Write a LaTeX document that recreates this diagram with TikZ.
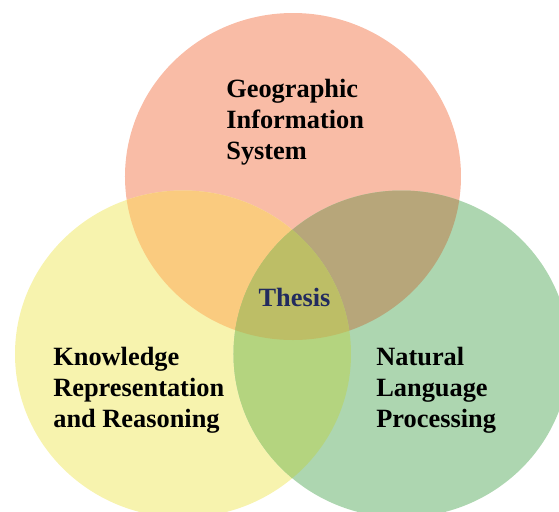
\documentclass[tikz,border=0pt]{standalone}
\usepackage{fontspec}
\setmainfont{Liberation Serif}
\usepackage{tikz}

\definecolor{gisred}{HTML}{F9BCA6}
\definecolor{krryellow}{HTML}{F7F3AE}
\definecolor{nlpgreen}{HTML}{ADD6B0}
\definecolor{giskrr}{HTML}{FACB7F}
\definecolor{gisnlp}{HTML}{B7A67A}
\definecolor{krrnlp}{HTML}{B4D47F}
\definecolor{allthree}{HTML}{BDBE66}
\definecolor{thesisblue}{HTML}{222B5E}

\begin{document}
\begin{tikzpicture}[scale=0.2]
    \tikzstyle{every node}+=[inner sep=0pt, font=\bfseries\fontsize{15}{17.6}\selectfont]
    \useasboundingbox (0,0) rectangle (55.9,-51.1);
    \clip (0,0) rectangle (55.9,-51.1);
    \coordinate (gis) at (29.3,-17.65);
    \coordinate (krr) at (18.3,-35.4);
    \coordinate (nlp) at (40.15,-35.4);
    % plain circles
    \fill [gisred] (gis) ellipse (16.8 and 16.35);
    \fill [krryellow] (krr) ellipse (16.8 and 16.35);
    \fill [nlpgreen] (nlp) ellipse (16.8 and 16.35);
    % overlaps of two
    \begin{scope}
      \clip (gis) ellipse (16.8 and 16.35);
      \fill [giskrr] (krr) ellipse (16.8 and 16.35);
      \fill [gisnlp] (nlp) ellipse (16.8 and 16.35);
    \end{scope}
    \begin{scope}
      \clip (krr) ellipse (16.8 and 16.35);
      \fill [krrnlp] (nlp) ellipse (16.8 and 16.35);
    \end{scope}
    % overlap of all three
    \begin{scope}
      \clip (gis) ellipse (16.8 and 16.35);
      \clip (krr) ellipse (16.8 and 16.35);
      \fill [allthree] (nlp) ellipse (16.8 and 16.35);
    \end{scope}
    % labels
    \node [anchor=north west, align=left] (gislabel) at (22.6,-7.9) {Geographic\\Information\\System};
    \node [anchor=north west, align=left] (krrlabel) at (5.3,-34.7) {Knowledge\\Representation\\and Reasoning};
    \node [anchor=north west, align=left] (nlplabel) at (37.6,-34.7) {Natural\\Language\\Processing};
    \node [anchor=base, text=thesisblue] (thesis) at (29.45,-30.6) {Thesis};
\end{tikzpicture}
\end{document}
